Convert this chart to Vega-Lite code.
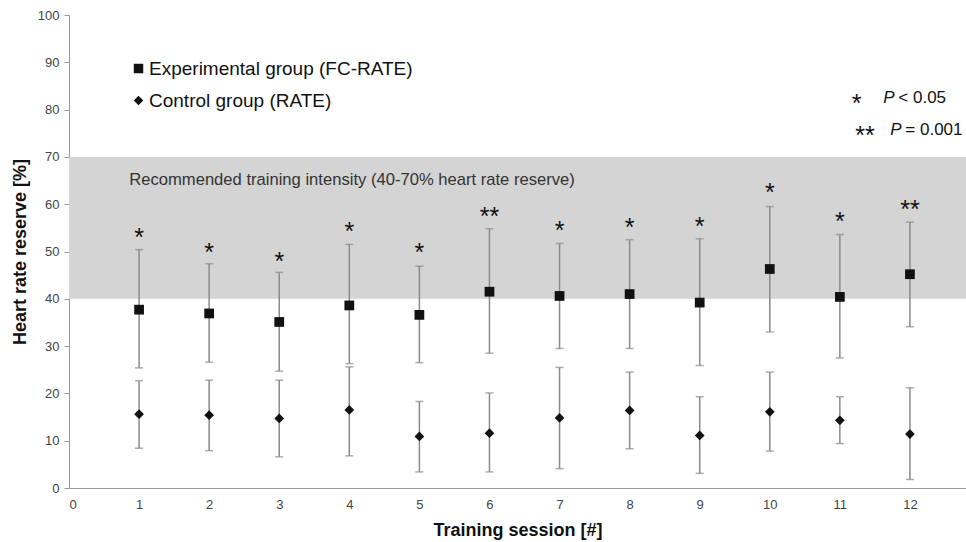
{
  "$schema": "https://vega.github.io/schema/vega-lite/v6.json",
  "width": 897,
  "height": 473,
  "autosize": "none",
  "padding": {"left": 69, "top": 15, "right": 0, "bottom": 54},
  "background": "white",
  "config": {
    "font": "Liberation Sans",
    "view": {"stroke": null},
    "axis": {"grid": false, "domainColor": "#999", "tickColor": "#999", "labelColor": "#444", "labelFontSize": 13, "titleFontSize": 18, "titleFontWeight": "bold", "titleColor": "#111", "labelFont": "Liberation Sans", "titleFont": "Liberation Sans"}
  },
  "datasets": {
    "stats": [
      {"session": 1, "group": "Experimental group (FC-RATE)", "mean": 37.7, "lo": 25.4, "hi": 50.4, "sig": "*", "sigY": 54.2},
      {"session": 2, "group": "Experimental group (FC-RATE)", "mean": 36.9, "lo": 26.6, "hi": 47.4, "sig": "*", "sigY": 51.0},
      {"session": 3, "group": "Experimental group (FC-RATE)", "mean": 35.1, "lo": 24.7, "hi": 45.6, "sig": "*", "sigY": 49.1},
      {"session": 4, "group": "Experimental group (FC-RATE)", "mean": 38.6, "lo": 26.3, "hi": 51.5, "sig": "*", "sigY": 55.4},
      {"session": 5, "group": "Experimental group (FC-RATE)", "mean": 36.6, "lo": 26.5, "hi": 46.9, "sig": "*", "sigY": 50.9},
      {"session": 6, "group": "Experimental group (FC-RATE)", "mean": 41.5, "lo": 28.5, "hi": 54.8, "sig": "**", "sigY": 58.6},
      {"session": 7, "group": "Experimental group (FC-RATE)", "mean": 40.6, "lo": 29.5, "hi": 51.7, "sig": "*", "sigY": 55.6},
      {"session": 8, "group": "Experimental group (FC-RATE)", "mean": 41.0, "lo": 29.5, "hi": 52.5, "sig": "*", "sigY": 56.2},
      {"session": 9, "group": "Experimental group (FC-RATE)", "mean": 39.2, "lo": 25.9, "hi": 52.7, "sig": "*", "sigY": 56.5},
      {"session": 10, "group": "Experimental group (FC-RATE)", "mean": 46.3, "lo": 33.0, "hi": 59.5, "sig": "*", "sigY": 63.7},
      {"session": 11, "group": "Experimental group (FC-RATE)", "mean": 40.4, "lo": 27.5, "hi": 53.6, "sig": "*", "sigY": 57.4},
      {"session": 12, "group": "Experimental group (FC-RATE)", "mean": 45.2, "lo": 34.1, "hi": 56.2, "sig": "**", "sigY": 60.0},
      {"session": 1, "group": "Control group (RATE)", "mean": 15.6, "lo": 8.4, "hi": 22.7},
      {"session": 2, "group": "Control group (RATE)", "mean": 15.4, "lo": 7.9, "hi": 22.8},
      {"session": 3, "group": "Control group (RATE)", "mean": 14.7, "lo": 6.6, "hi": 22.8},
      {"session": 4, "group": "Control group (RATE)", "mean": 16.5, "lo": 6.8, "hi": 25.6},
      {"session": 5, "group": "Control group (RATE)", "mean": 10.9, "lo": 3.4, "hi": 18.3},
      {"session": 6, "group": "Control group (RATE)", "mean": 11.6, "lo": 3.4, "hi": 20.1},
      {"session": 7, "group": "Control group (RATE)", "mean": 14.8, "lo": 4.1, "hi": 25.5},
      {"session": 8, "group": "Control group (RATE)", "mean": 16.4, "lo": 8.3, "hi": 24.5},
      {"session": 9, "group": "Control group (RATE)", "mean": 11.1, "lo": 3.1, "hi": 19.3},
      {"session": 10, "group": "Control group (RATE)", "mean": 16.1, "lo": 7.8, "hi": 24.5},
      {"session": 11, "group": "Control group (RATE)", "mean": 14.3, "lo": 9.4, "hi": 19.3},
      {"session": 12, "group": "Control group (RATE)", "mean": 11.4, "lo": 1.8, "hi": 21.2}
    ],
    "band": [{"start": 0, "end": 12.8, "lo": 40, "hi": 70, "label": "Recommended training intensity (40-70% heart rate reserve)", "lx": 0.86, "ly": 65.1}],
    "pnotes": [
      {"star": "*", "sx": 11.24, "p": "P", "px": 11.62, "rest": "< 0.05", "y": 82.4},
      {"star": "**", "sx": 11.36, "p": "P", "px": 11.72, "rest": "= 0.001", "y": 75.7}
    ]
  },
  "layer": [
    {
      "data": {"name": "band"},
      "mark": {"type": "rect", "color": "#d4d4d4"},
      "encoding": {
        "x": {"field": "start", "type": "quantitative", "scale": {"domain": [0, 12.8], "nice": false}, "axis": {"values": [0,1,2,3,4,5,6,7,8,9,10,11,12], "format": "d", "title": "Training session [#]", "ticks": false, "labelPadding": 10, "titlePadding": 10}},
        "x2": {"field": "end"},
        "y": {"field": "lo", "type": "quantitative", "scale": {"domain": [0, 100], "nice": false}, "axis": {"values": [0,10,20,30,40,50,60,70,80,90,100], "format": "d", "title": "Heart rate reserve [%]", "tickSize": 5, "labelPadding": 5, "titlePadding": 8}},
        "y2": {"field": "hi"}
      }
    },
    {
      "data": {"name": "band"},
      "mark": {"type": "text", "align": "left", "baseline": "middle", "fontSize": 16.6, "color": "#333"},
      "encoding": {
        "x": {"field": "lx", "type": "quantitative"},
        "y": {"field": "ly", "type": "quantitative"},
        "text": {"field": "label"}
      }
    },
    {
      "data": {"name": "stats"},
      "mark": {"type": "rule", "color": "#8a8a8a", "strokeWidth": 1.5},
      "encoding": {
        "x": {"field": "session", "type": "quantitative"},
        "y": {"field": "lo", "type": "quantitative"},
        "y2": {"field": "hi"}
      }
    },
    {
      "data": {"name": "stats"},
      "mark": {"type": "tick", "orient": "horizontal", "color": "#8a8a8a", "size": 8, "thickness": 1.5},
      "encoding": {
        "x": {"field": "session", "type": "quantitative"},
        "y": {"field": "lo", "type": "quantitative"}
      }
    },
    {
      "data": {"name": "stats"},
      "mark": {"type": "tick", "orient": "horizontal", "color": "#8a8a8a", "size": 8, "thickness": 1.5},
      "encoding": {
        "x": {"field": "session", "type": "quantitative"},
        "y": {"field": "hi", "type": "quantitative"}
      }
    },
    {
      "data": {"name": "stats"},
      "mark": {"type": "point", "filled": true, "opacity": 1, "color": "#111", "size": 95},
      "encoding": {
        "x": {"field": "session", "type": "quantitative"},
        "y": {"field": "mean", "type": "quantitative"},
        "shape": {"field": "group", "type": "nominal", "scale": {"domain": ["Experimental group (FC-RATE)", "Control group (RATE)"], "range": ["square", "diamond"]},
          "legend": {"title": null, "orient": "none", "legendX": 60, "legendY": 44, "labelFontSize": 19, "labelLimit": 500, "labelColor": "#111", "labelFont": "Liberation Sans", "symbolFillColor": "#111", "symbolStrokeColor": "#111", "symbolOpacity": 1, "symbolSize": 90, "rowPadding": 12, "labelOffset": 1}}
      }
    },
    {
      "data": {"name": "stats"},
      "transform": [{"filter": "datum.sig != null"}],
      "mark": {"type": "text", "fontSize": 25, "baseline": "alphabetic", "dy": 14, "color": "#111"},
      "encoding": {
        "x": {"field": "session", "type": "quantitative"},
        "y": {"field": "sigY", "type": "quantitative"},
        "text": {"field": "sig"}
      }
    },
    {
      "data": {"name": "pnotes"},
      "mark": {"type": "text", "fontSize": 25, "baseline": "alphabetic", "dy": 14, "color": "#111"},
      "encoding": {
        "x": {"field": "sx", "type": "quantitative"},
        "y": {"field": "y", "type": "quantitative"},
        "text": {"field": "star"}
      }
    },
    {
      "data": {"name": "pnotes"},
      "mark": {"type": "text", "fontSize": 17, "fontStyle": "italic", "align": "left", "baseline": "middle", "color": "#111"},
      "encoding": {
        "x": {"field": "px", "type": "quantitative"},
        "y": {"field": "y", "type": "quantitative"},
        "text": {"field": "p"}
      }
    },
    {
      "data": {"name": "pnotes"},
      "mark": {"type": "text", "fontSize": 17, "align": "left", "baseline": "middle", "dx": 15, "color": "#111"},
      "encoding": {
        "x": {"field": "px", "type": "quantitative"},
        "y": {"field": "y", "type": "quantitative"},
        "text": {"field": "rest"}
      }
    }
  ]
}
